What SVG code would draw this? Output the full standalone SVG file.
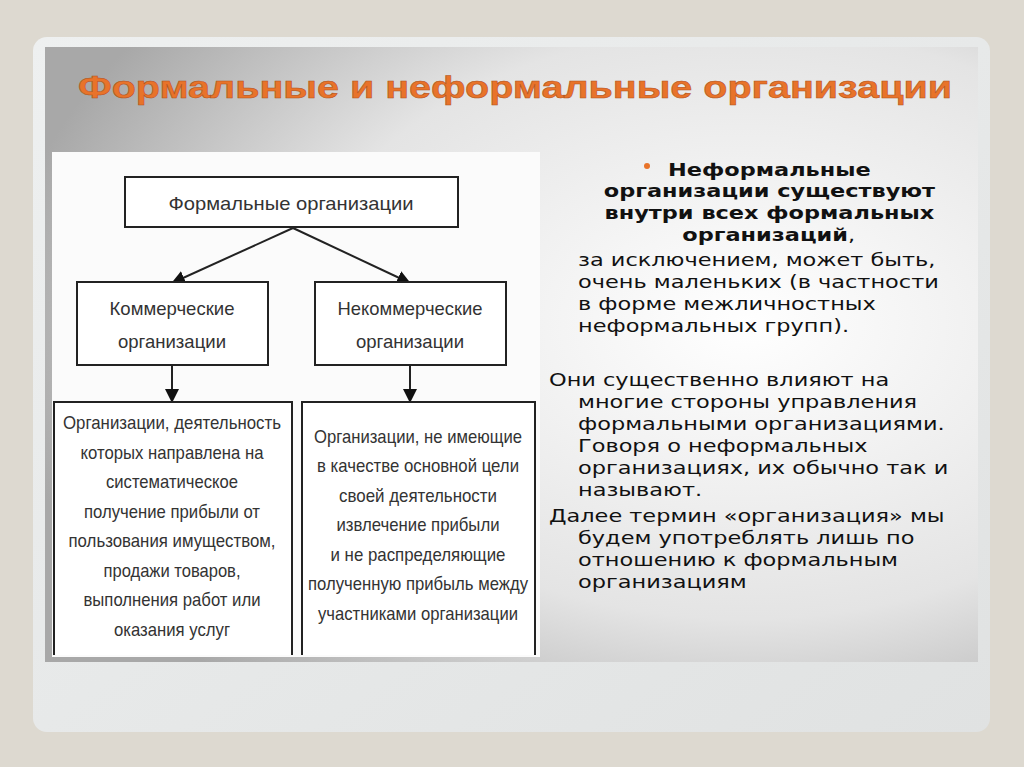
<svg xmlns="http://www.w3.org/2000/svg" width="1024" height="767" viewBox="0 0 1024 767">
<defs>
<linearGradient id="bg" x1="0" y1="0" x2="1" y2="1"><stop offset="0" stop-color="#eef0f0"/><stop offset="1" stop-color="#e0e2e2"/></linearGradient>
<radialGradient id="pan" cx="0.75" cy="0.45" r="0.8"><stop offset="0" stop-color="#ffffff"/><stop offset="0.6" stop-color="#e4e4e4"/><stop offset="1" stop-color="#a8a8a8"/></radialGradient>
<marker id="ah" markerWidth="14" markerHeight="14" refX="13" refY="7" orient="auto" markerUnits="userSpaceOnUse" viewBox="0 0 14 14"><path d="M0,0 L14,7 L0,14 z" fill="#111"/></marker>
</defs>
<style>
.box{fill:#fff;stroke:#222;stroke-width:2}
.d{font-family:"Liberation Sans",Arial,sans-serif;font-size:19px;fill:#333;text-anchor:middle}
.c{stroke:#222;stroke-width:2;fill:none;marker-end:url(#ah)}
.r{font-family:"DejaVu Sans",sans-serif;font-size:17px;fill:#111}
.rb{font-weight:bold;text-anchor:middle}
</style>
<rect width="1024" height="767" fill="#ddd9d0"/>
<rect x="33" y="37" width="957" height="695" rx="14" fill="url(#bg)"/>
<rect x="45" y="47" width="933" height="615" fill="url(#pan)"/>
<text x="78" y="98" font-family="Liberation Sans,Arial,sans-serif" font-size="31" font-weight="bold" fill="#e8732a" stroke="#b0501a" stroke-width="0.5" textLength="874" lengthAdjust="spacingAndGlyphs">Формальные и неформальные организации</text>
<rect x="52" y="152" width="488" height="505" fill="#fbfbfb"/>
<g id="connectors">
<line class="c" x1="293" y1="228" x2="172" y2="283"/>
<line class="c" x1="293" y1="228" x2="410" y2="283"/>
<line class="c" x1="172" y1="365" x2="172" y2="402"/>
<line class="c" x1="410" y1="365" x2="410" y2="402"/>
</g>
<g id="n1"><rect class="box" x="125" y="177" width="333" height="50"/><text class="d" x="291" y="210" textLength="245" lengthAdjust="spacingAndGlyphs">Формальные организации</text></g>
<g id="n2"><rect class="box" x="77" y="282" width="191" height="83"/><text class="d" x="172" y="315" textLength="125" lengthAdjust="spacingAndGlyphs">Коммерческие</text><text class="d" x="172" y="348" textLength="108" lengthAdjust="spacingAndGlyphs">организации</text></g>
<g id="n3"><rect class="box" x="315" y="282" width="191" height="83"/><text class="d" x="410" y="315" textLength="145" lengthAdjust="spacingAndGlyphs">Некоммерческие</text><text class="d" x="410" y="348" textLength="108" lengthAdjust="spacingAndGlyphs">организации</text></g>
<g id="n4"><path class="box" d="M54,655 V402 H292 V655"/>
<text class="d" x="172" y="429" textLength="218" lengthAdjust="spacingAndGlyphs">Организации, деятельность</text>
<text class="d" x="172" y="459" textLength="183" lengthAdjust="spacingAndGlyphs">которых направлена на</text>
<text class="d" x="172" y="488" textLength="132" lengthAdjust="spacingAndGlyphs">систематическое</text>
<text class="d" x="172" y="518" textLength="176" lengthAdjust="spacingAndGlyphs">получение прибыли от</text>
<text class="d" x="172" y="547" textLength="207" lengthAdjust="spacingAndGlyphs">пользования имуществом,</text>
<text class="d" x="172" y="577" textLength="137" lengthAdjust="spacingAndGlyphs">продажи товаров,</text>
<text class="d" x="172" y="606" textLength="177" lengthAdjust="spacingAndGlyphs">выполнения работ или</text>
<text class="d" x="172" y="636" textLength="116" lengthAdjust="spacingAndGlyphs">оказания услуг</text></g>
<g id="n5"><path class="box" d="M302,655 V402 H535 V655"/>
<text class="d" x="418" y="443" textLength="208" lengthAdjust="spacingAndGlyphs">Организации, не имеющие</text>
<text class="d" x="418" y="472" textLength="202" lengthAdjust="spacingAndGlyphs">в качестве основной цели</text>
<text class="d" x="418" y="502" textLength="158" lengthAdjust="spacingAndGlyphs">своей деятельности</text>
<text class="d" x="418" y="531" textLength="163" lengthAdjust="spacingAndGlyphs">извлечение прибыли</text>
<text class="d" x="418" y="561" textLength="175" lengthAdjust="spacingAndGlyphs">и не распределяющие</text>
<text class="d" x="418" y="590" textLength="220" lengthAdjust="spacingAndGlyphs">полученную прибыль между</text>
<text class="d" x="418" y="620" textLength="200" lengthAdjust="spacingAndGlyphs">участниками организации</text></g>
<circle cx="647" cy="166" r="3" fill="#e8732a"/>
<g transform="translate(549,0) scale(1.32,1)">
<text class="r rb" x="167" y="176">Неформальные</text>
<text class="r rb" x="167" y="197">организации существуют</text>
<text class="r rb" x="167" y="219">внутри всех формальных</text>
<text class="r" x="101" y="241"><tspan font-weight="bold">организаций</tspan>,</text>
<text class="r" x="22" y="266">за исключением, может быть,</text>
<text class="r" x="22" y="288">очень маленьких (в частности</text>
<text class="r" x="22" y="310">в форме межличностных</text>
<text class="r" x="22" y="332">неформальных групп).</text>
<text class="r" x="0" y="386">Они существенно влияют на</text>
<text class="r" x="22" y="408">многие стороны управления</text>
<text class="r" x="22" y="430">формальными организациями.</text>
<text class="r" x="22" y="452">Говоря о неформальных</text>
<text class="r" x="22" y="474">организациях, их обычно так и</text>
<text class="r" x="22" y="496">называют.</text>
<text class="r" x="0" y="522">Далее термин «организация» мы</text>
<text class="r" x="22" y="544">будем употреблять лишь по</text>
<text class="r" x="22" y="566">отношению к формальным</text>
<text class="r" x="22" y="588">организациям</text>
</g>
</svg>
